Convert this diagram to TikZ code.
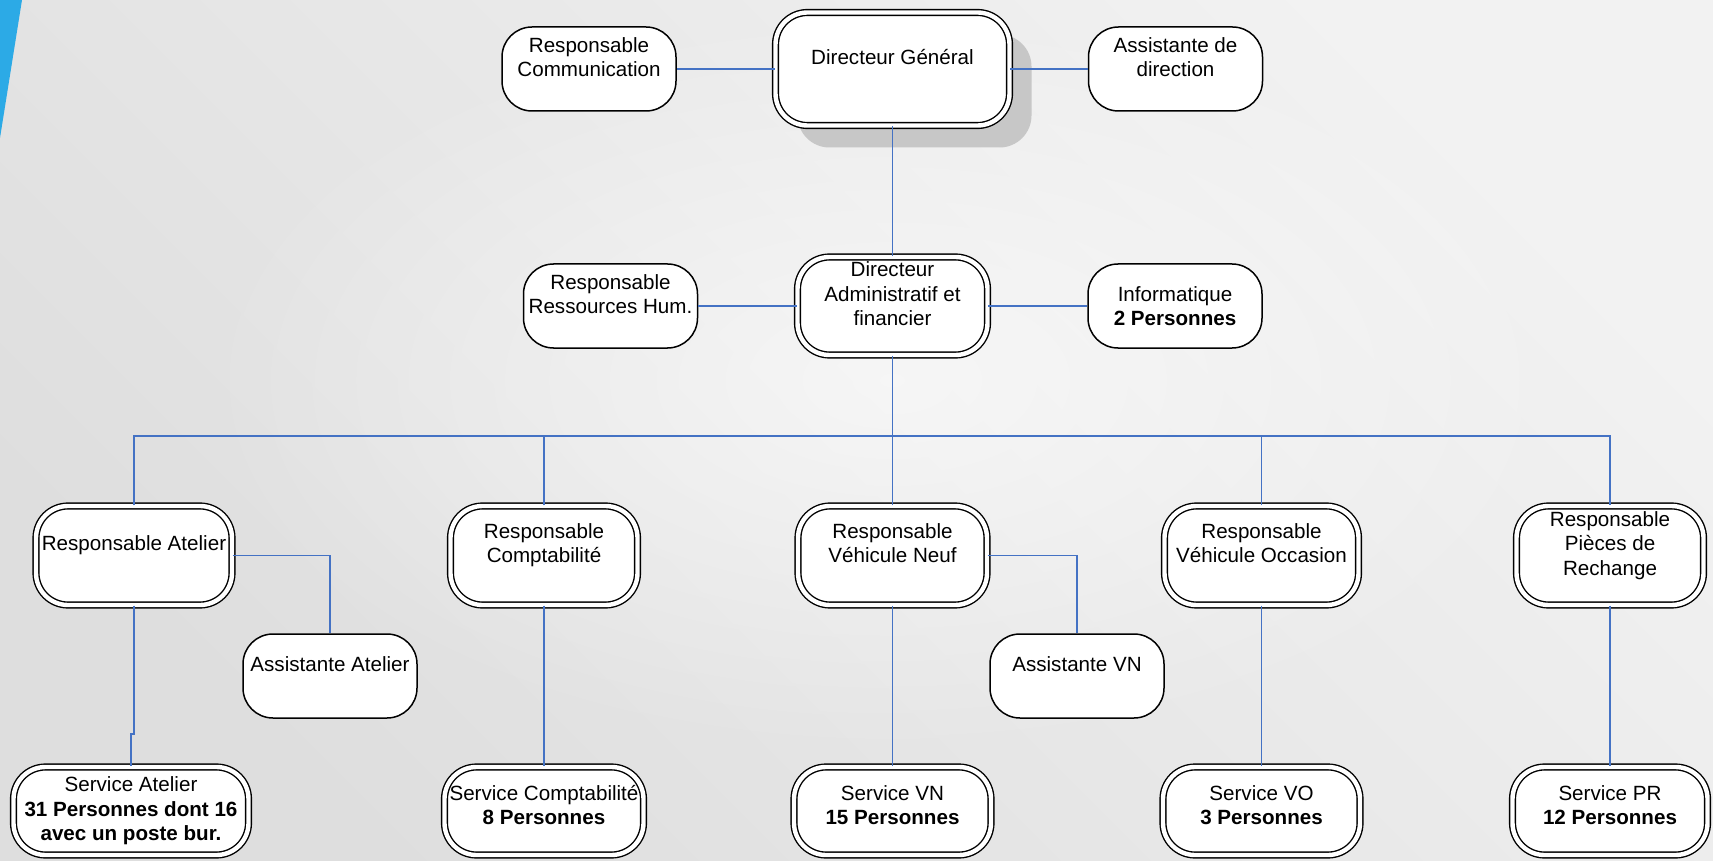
\documentclass[tikz,border=0pt]{standalone}
\usepackage{fontspec}
\setmainfont{Liberation Sans}
\usetikzlibrary{shadows,fadings}
\definecolor{connblue}{RGB}{68,114,196}
\definecolor{stripeblue}{RGB}{44,170,230}
\definecolor{bgdark}{RGB}{222,222,222}
\definecolor{bglight}{RGB}{242,242,242}
\tikzfading[name=centerfade, inner color=transparent!0, outer color=transparent!100]
\begin{document}
\begin{tikzpicture}[x=0.5pt,y=-0.5pt,
  txt/.style={font=\fontsize{10.3}{12.2}\selectfont, align=center, inner sep=1pt, text=black},
  sbox/.style 2 args={txt, draw=black, line width=0.75pt, fill=white, rounded corners=15pt, minimum width=#1pt, minimum height=#2pt},
  dbox/.style 2 args={txt, draw=black, line width=0.7pt, double=white, double distance=2.2pt, fill=white, rounded corners=16pt, minimum width=#1pt, minimum height=#2pt},
  conn/.style={draw=connblue, line width=0.7pt}
]
\shade[bottom color=bgdark, top color=bglight, shading angle=-45] (0,0) rectangle (1713,861);
\fill[white, fill opacity=0.6, path fading=centerfade] (892,380) ellipse (700 and 380);
\useasboundingbox (0,0) rectangle (1713,861);
\fill[stripeblue] (0,0) -- (22,0) -- (0,138) -- cycle;

% top row
\node[dbox={117}{56.5}, general shadow={fill=black!22, shadow xshift=11pt, shadow yshift=-11pt}] (DG) at (892.5,69) {Directeur Général\\\mbox{}};
\node[sbox={87}{42}] (RC) at (589,69) {Responsable\\Communication\\\mbox{}};
\node[sbox={87}{42}] (AD) at (1175.5,69) {Assistante de\\direction\\\mbox{}};

% second row
\node[dbox={95}{49}] (DAF) at (892.5,306) {Directeur\\Administratif et\\financier\\\mbox{}};
\node[sbox={87}{42}] (RRH) at (610.5,306) {Responsable\\Ressources Hum.\\\mbox{}};
\node[sbox={87}{42}] (INFO) at (1175,306) {Informatique\\\textbf{2 Personnes}};

% third row
\node[dbox={98}{49.5}] (RA) at (134,555.5) {Responsable Atelier\\\mbox{}};
\node[dbox={93.5}{49.5}] (RCO) at (544,555.5) {Responsable\\Comptabilité\\\mbox{}};
\node[dbox={94.5}{49.5}] (RVN) at (892.5,555.5) {Responsable\\Véhicule Neuf\\\mbox{}};
\node[dbox={97}{49.5}] (RVO) at (1261.5,555.5) {Responsable\\Véhicule Occasion\\\mbox{}};
\node[dbox={93.5}{49.5}] (RPR) at (1610,555.5) {Responsable\\Pièces de\\Rechange\\\mbox{}};

% assistants
\node[sbox={87}{42}] (ASA) at (330,676) {Assistante Atelier\\\mbox{}};
\node[sbox={87}{42}] (ASVN) at (1077,676) {Assistante VN\\\mbox{}};

% bottom row
\node[dbox={117.5}{44}] (SA) at (131,811) {Service Atelier\\\textbf{31 Personnes dont 16}\\\textbf{avec un poste bur.}};
\node[dbox={99.5}{44}] (SC) at (544,811) {Service Comptabilité\\\textbf{8 Personnes}\\[-6pt]\mbox{}};
\node[dbox={98.5}{44}] (SVN) at (892.5,811) {Service VN\\\textbf{15 Personnes}\\[-6pt]\mbox{}};
\node[dbox={98.5}{44}] (SVO) at (1261.5,811) {Service VO\\\textbf{3 Personnes}\\[-6pt]\mbox{}};
\node[dbox={97.5}{44}] (SPR) at (1610,811) {Service PR\\\textbf{12 Personnes}\\[-6pt]\mbox{}};

% connectors
\coordinate (bus) at (892.5,436);
\coordinate (jog) at (134,734);
\draw[conn] (RC.east) -- (DG.west);
\draw[conn] (DG.east) -- (AD.west);
\draw[conn] (DG.south) -- (DAF.north);
\draw[conn] (RRH.east) -- (DAF.west);
\draw[conn] (DAF.east) -- (INFO.west);
\draw[conn] (DAF.south) -- (bus);
\draw[conn] (RA.north) |- (bus) -| (RPR.north);
\draw[conn] (RCO.north) -- (RCO.north |- bus);
\draw[conn] (RVN.north) -- (bus);
\draw[conn] (RVO.north) -- (RVO.north |- bus);
\draw[conn] (RA.east) -| (ASA.north);
\draw[conn] (RVN.east) -| (ASVN.north);
\draw[conn] (RA.south) -- (jog) -| (SA.north);
\draw[conn] (RCO.south) -- (SC.north);
\draw[conn] (RVN.south) -- (SVN.north);
\draw[conn] (RVO.south) -- (SVO.north);
\draw[conn] (RPR.south) -- (SPR.north);
\end{tikzpicture}
\end{document}
